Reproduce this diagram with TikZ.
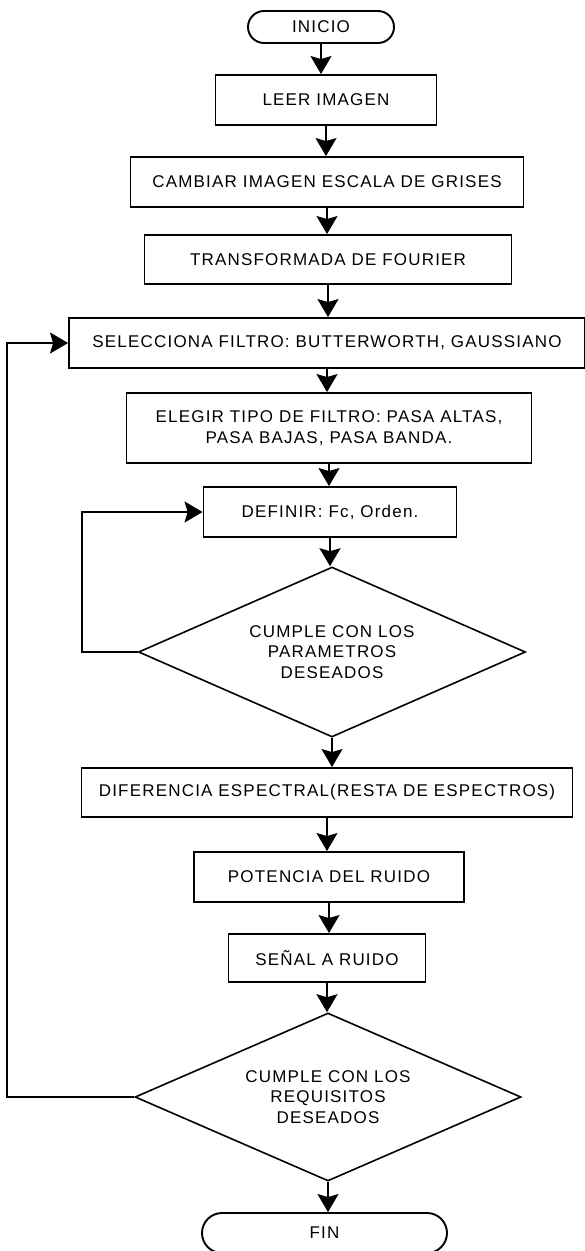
\documentclass[tikz,border=0pt]{standalone}
\usepackage{fontspec}
\setmainfont{Liberation Sans}[LetterSpace=7]
\usetikzlibrary{shapes,arrows.meta}

\begin{document}
\begin{tikzpicture}[x=1pt,y=-1pt,
		caja/.style={draw,line width=1.9pt,inner sep=0pt,minimum height=50pt,font=\fontsize{17}{21}\selectfont,align=center},
		terminal/.style={caja,rounded corners=16pt},
		decision/.style={draw,diamond,line width=1.6pt,inner sep=0pt,aspect=2.3,font=\fontsize{17}{20.5}\selectfont,align=center},
		flecha/.style={line width=1.9pt,-{Stealth[length=18pt,width=21pt,inset=3pt]}}]
			\useasboundingbox (0,0) rectangle (584,1251);
			\node[terminal,minimum width=146pt,minimum height=32pt] (inicio) at (321,27) {INICIO};
			\node[caja,minimum width=221pt] (leer) at (326,100) {LEER IMAGEN};
			\node[caja,minimum width=393pt] (gris) at (327,182) {CAMBIAR IMAGEN ESCALA DE GRISES};
			\node[caja,minimum width=367pt,minimum height=49pt] (fourier) at (328,259.5) {TRANSFORMADA DE FOURIER};
			\node[caja,minimum width=516pt] (filtro) at (327,343) {SELECCIONA FILTRO: BUTTERWORTH, GAUSSIANO};
			\node[caja,minimum width=405pt,minimum height=70pt] (tipo) at (329,428) {ELEGIR TIPO DE FILTRO: PASA ALTAS,\\PASA BAJAS, PASA BANDA.};
			\node[caja,minimum width=253pt] (definir) at (330,512) {DEFINIR: Fc, Orden.};
			\node[decision,minimum width=387pt,minimum height=170pt] (param) at (332,652) {CUMPLE CON LOS\\PARAMETROS\\DESEADOS};
			\node[caja,minimum width=491pt,minimum height=49pt] (espectral) at (327,792.5) {DIFERENCIA ESPECTRAL(RESTA DE ESPECTROS)};
			\node[caja,minimum width=270pt] (potencia) at (329,877) {POTENCIA DEL RUIDO};
			\node[caja,minimum width=197pt,minimum height=48pt] (snr) at (327,958) {SEÑAL A RUIDO};
			\node[decision,minimum width=386pt,minimum height=168pt] (requisitos) at (328,1097) {CUMPLE CON LOS\\REQUISITOS\\DESEADOS};
			\node[terminal,minimum width=245pt,minimum height=40pt,rounded corners=20pt] (fin) at (324.5,1233) {FIN};
			\draw[flecha] (inicio) -- (inicio |- leer.north);
			\draw[flecha] (leer) -- (leer |- gris.north);
			\draw[flecha] (gris) -- (gris |- fourier.north);
			\draw[flecha] (fourier) -- (fourier |- filtro.north);
			\draw[flecha] (filtro) -- (filtro |- tipo.north);
			\draw[flecha] (tipo) -- (tipo |- definir.north);
			\draw[flecha] (definir) -- (definir |- param.north);
			\draw[flecha] (param) -- (param |- espectral.north);
			\draw[flecha] (espectral) -- (espectral |- potencia.north);
			\draw[flecha] (potencia) -- (potencia |- snr.north);
			\draw[flecha] (snr) -- (snr |- requisitos.north);
			\draw[flecha] (requisitos) -- (requisitos |- fin.north);
			\draw[flecha] (param.west) -- ++(-56,0) |- (definir.west);
			\draw[flecha] (requisitos.west) -- ++(-127,0) |- (filtro.west);
		\end{tikzpicture}
\end{document}
